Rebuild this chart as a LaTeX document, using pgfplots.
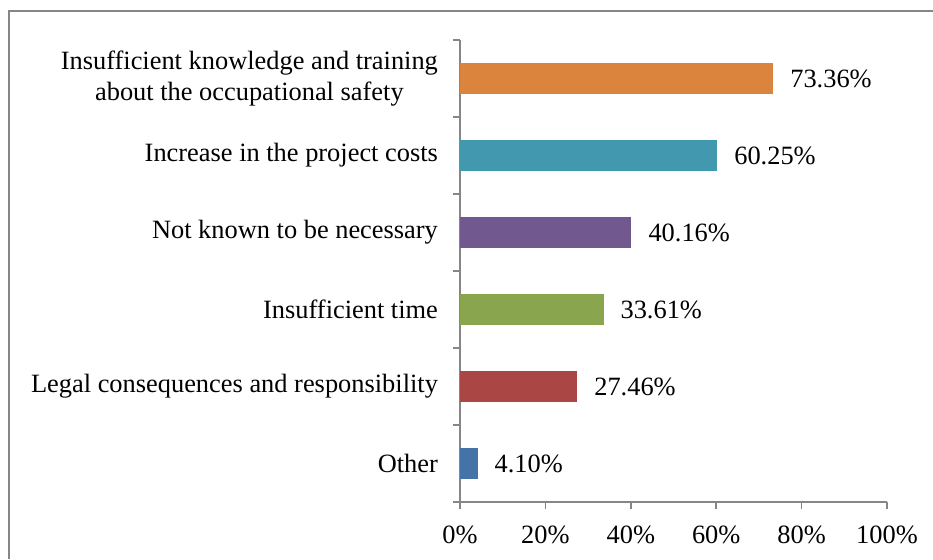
\documentclass[border=0pt]{standalone}
\usepackage{fontspec}
\setmainfont{Liberation Serif}
\usepackage{pgfplots}
\pgfplotsset{compat=1.18}
\definecolor{c1}{HTML}{4572A7}
\definecolor{c2}{HTML}{AA4643}
\definecolor{c3}{HTML}{89A54E}
\definecolor{c4}{HTML}{71588F}
\definecolor{c5}{HTML}{4198AF}
\definecolor{c6}{HTML}{DB843D}
\definecolor{axgray}{HTML}{868686}
\newcommand{\lblfont}{\fontsize{13.2}{15.2}\selectfont}
\begin{document}
\begin{tikzpicture}
\useasboundingbox (0pt,0pt) rectangle (466.5pt,279.5pt);
\draw[axgray,line width=0.8pt] (4.5pt,0pt) -- (4.5pt,274pt) -- (466.5pt,274pt);
\begin{axis}[
  at={(230pt,28.5pt)}, anchor=south west,
  scale only axis, width=213.5pt, height=231pt,
  xbar, bar width=15.5pt, bar shift=0pt,
  xmin=0, xmax=100, ymin=-0.5, ymax=5.5,
  axis lines*=left,
  axis line style={axgray, line width=0.8pt},
  every tick/.style={axgray, line width=0.8pt},
  tick align=outside,
  major tick length=3.5pt,
  xtick={0,20,40,60,80,100},
  xticklabel={\pgfmathprintnumber{\tick}\%},
  xticklabel style={font=\lblfont, yshift=-5pt},
  ytick={-0.5,0.5,1.5,2.5,3.5,4.5,5.5},
  yticklabels={},
  extra y ticks={0,1,2,3,4,5},
  extra y tick labels={Other,Legal consequences and responsibility,Insufficient time,Not known to be necessary,Increase in the project costs,{Insufficient knowledge and training\\about the occupational safety}},
  extra y tick style={major tick length=0pt, yticklabel style={align=center, font=\lblfont, xshift=-7.5pt}},
  /pgf/number format/assume math mode=true,
  nodes near coords={\pgfmathprintnumber[fixed,precision=2,fixed zerofill,assume math mode=true]{\pgfplotspointmeta}\%},
  every node near coord/.append style={font=\lblfont, black, xshift=5pt},
  clip=false,
]
\addplot[fill=c1, draw=none] coordinates {(4.10,0)};
\addplot[fill=c2, draw=none] coordinates {(27.46,1)};
\addplot[fill=c3, draw=none] coordinates {(33.61,2)};
\addplot[fill=c4, draw=none] coordinates {(40.16,3)};
\addplot[fill=c5, draw=none] coordinates {(60.25,4)};
\addplot[fill=c6, draw=none] coordinates {(73.36,5)};
\end{axis}
\end{tikzpicture}
\end{document}
